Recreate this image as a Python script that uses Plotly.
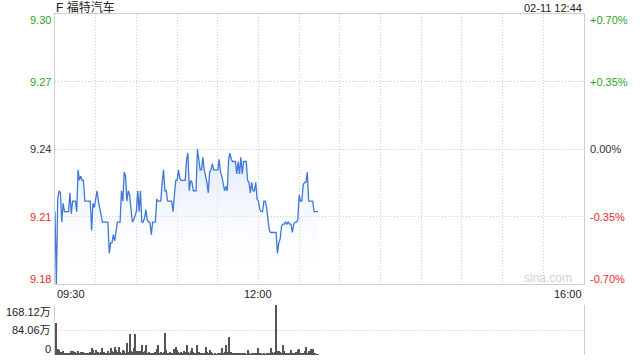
import plotly.graph_objects as go

title_text = "F 福特汽车"
stamp_text = "02-11 12:44"
prev_close = 9.24
pct_range = 0.70

price_tick_labels = ["9.30", "9.27", "9.24", "9.21", "9.18"]
pct_tick_values = [0.70, 0.35, 0.00, -0.35, -0.70]
pct_tick_labels = ["+0.70%", "+0.35%", "0.00%", "-0.35%", "-0.70%"]
time_tick_minutes = [0, 150, 390]
time_tick_labels = ["09:30", "12:00", "16:00"]
vol_tick_values = [168.12, 84.06, 0]
vol_tick_labels = ["168.12万", "84.06万", "0"]

# minute index (0 = 09:30) and last price per minute
minutes = list(range(195))
prices = [
    9.210, 9.175, 9.216, 9.220, 9.219, 9.205, 9.214, 9.210, 9.210, 9.210,
    9.210, 9.219, 9.209, 9.215, 9.215, 9.215, 9.210, 9.230, 9.225, 9.227,
    9.225, 9.225, 9.215, 9.215, 9.215, 9.215, 9.215, 9.201, 9.214, 9.212,
    9.217, 9.220, 9.215, 9.212, 9.208, 9.205, 9.205, 9.205, 9.205, 9.205,
    9.190, 9.195, 9.195, 9.199, 9.196, 9.201, 9.205, 9.205, 9.205, 9.220,
    9.215, 9.229, 9.227, 9.215, 9.220, 9.218, 9.211, 9.205, 9.206, 9.208,
    9.210, 9.220, 9.210, 9.220, 9.205, 9.205, 9.207, 9.211, 9.206, 9.205,
    9.205, 9.199, 9.205, 9.205, 9.205, 9.216, 9.215, 9.215, 9.215, 9.224,
    9.230, 9.220, 9.220, 9.215, 9.215, 9.215, 9.215, 9.210, 9.220, 9.225,
    9.225, 9.230, 9.226, 9.225, 9.225, 9.225, 9.225, 9.235, 9.238, 9.220,
    9.225, 9.224, 9.220, 9.220, 9.220, 9.240, 9.236, 9.230, 9.230, 9.236,
    9.230, 9.227, 9.224, 9.219, 9.229, 9.230, 9.233, 9.230, 9.230, 9.230,
    9.230, 9.235, 9.229, 9.227, 9.224, 9.220, 9.222, 9.220, 9.235, 9.238,
    9.235, 9.234, 9.234, 9.234, 9.228, 9.234, 9.228, 9.236, 9.228, 9.234,
    9.234, 9.234, 9.225, 9.224, 9.219, 9.224, 9.220, 9.220, 9.224, 9.216,
    9.215, 9.211, 9.210, 9.210, 9.215, 9.215, 9.212, 9.206, 9.201, 9.200,
    9.200, 9.200, 9.200, 9.200, 9.190, 9.195, 9.197, 9.203, 9.204, 9.204,
    9.205, 9.204, 9.205, 9.204, 9.204, 9.200, 9.204, 9.205, 9.205, 9.206,
    9.218, 9.215, 9.215, 9.223, 9.224, 9.224, 9.229, 9.215, 9.215, 9.215,
    9.215, 9.210, 9.210, 9.210, 9.210,
]

# volume per minute, in 万 shares
volumes = [
    0, 108, 20, 18, 11, 9, 13, 8, 6, 5,
    8, 6, 13, 12, 6, 9, 5, 14, 7, 9,
    5, 9, 6, 7, 4, 5, 9, 25, 17, 6,
    18, 7, 9, 5, 9, 22, 9, 6, 5, 15,
    8, 24, 15, 9, 28, 17, 9, 28, 9, 6,
    17, 14, 6, 40, 9, 70, 14, 9, 24, 70,
    14, 12, 6, 15, 32, 9, 15, 32, 6, 9,
    6, 7, 5, 6, 9, 20, 32, 6, 9, 7,
    9, 73, 17, 6, 4, 9, 5, 7, 20, 28,
    17, 9, 6, 9, 5, 12, 9, 35, 9, 6,
    12, 24, 9, 6, 7, 32, 9, 7, 6, 5,
    5, 28, 9, 7, 17, 9, 6, 3, 4, 3,
    7, 6, 7, 24, 7, 9, 35, 9, 62, 7,
    11, 7, 5, 7, 6, 3, 5, 6, 5, 4,
    6, 3, 17, 4, 3, 5, 4, 6, 5, 3,
    24, 6, 4, 3, 4, 3, 5, 6, 4, 24,
    9, 6, 9, 168.12, 12, 15, 9, 6, 32, 15,
    6, 7, 5, 6, 17, 7, 6, 5, 9, 17,
    20, 6, 7, 6, 12, 28, 7, 15, 9, 20,
    20, 7, 6, 3, 2,
]

GREEN = "#1fa51f"
RED = "#f02828"
DARK = "#333333"
GRID = "#cccccc"
BORDER = "#cfcfcf"
DOT = "1px,2px"
FONT = "Liberation Sans, Arial, Noto Sans CJK SC, sans-serif"

y_lo = prev_close * (1 - pct_range / 100)
y_hi = prev_close * (1 + pct_range / 100)
grid_prices = [prev_close * (1 + p / 100) for p in pct_tick_values]

fig = go.Figure()

fig.add_trace(go.Scatter(
    x=minutes, y=prices, mode="lines",
    line=dict(color="#3f78d8", width=1.3),
    fill="tozeroy",
    fillgradient=dict(
        type="vertical",
        start=y_lo, stop=max(prices),
        colorscale=[[0, "rgba(255,255,255,0)"], [1, "rgba(205,222,250,0.7)"]],
    ),
    xaxis="x", yaxis="y", hoverinfo="skip", showlegend=False,
))

fig.add_trace(go.Bar(
    x=minutes, y=volumes, width=0.75,
    marker=dict(color="#555555", line=dict(width=0)),
    xaxis="x2", yaxis="y2", hoverinfo="skip", showlegend=False,
))

top_price = 1.0
bottom_price = (355 - 284) / 341
top_vol = (355 - 305) / 341

fig.update_layout(
    width=640, height=360,
    margin=dict(l=55, r=56, t=14, b=5),
    paper_bgcolor="white", plot_bgcolor="white",
    font=dict(family=FONT, size=11, color=DARK),
    bargap=0,
    xaxis=dict(
        domain=[0, 1], range=[0, 390], anchor="y",
        tickmode="linear", tick0=0, dtick=30,
        showgrid=True, gridcolor=GRID, griddash=DOT, gridwidth=1,
        showticklabels=False, ticks="", zeroline=False,
        showline=True, linecolor=BORDER, linewidth=1, mirror=True,
    ),
    yaxis=dict(
        domain=[bottom_price, top_price], range=[y_lo, y_hi], anchor="x",
        tickmode="array", tickvals=grid_prices,
        showgrid=True, gridcolor=GRID, griddash=DOT, gridwidth=1,
        showticklabels=False, ticks="", zeroline=False,
        showline=True, linecolor=BORDER, linewidth=1, mirror=True,
    ),
    xaxis2=dict(
        domain=[0, 1], range=[0, 390], anchor="y2",
        showgrid=False, showticklabels=False, ticks="", zeroline=False,
        showline=False,
    ),
    yaxis2=dict(
        domain=[0, top_vol], range=[0, 168.12], anchor="x2",
        tickmode="array", tickvals=vol_tick_values,
        showgrid=True, gridcolor=GRID, griddash=DOT, gridwidth=1,
        showticklabels=False, ticks="", zeroline=False,
        showline=True, linecolor=BORDER, linewidth=1, mirror=True,
    ),
)

ann = []
# title and timestamp
ann.append(dict(x=0, y=1 + 6.5 / 341, xref="paper", yref="paper", xanchor="left",
                yanchor="middle", text=title_text, showarrow=False,
                font=dict(size=12, color="#222222"), xshift=-1))
ann.append(dict(x=1, y=1 + 6.5 / 341, xref="paper", yref="paper", xanchor="right",
                yanchor="middle", text=stamp_text, showarrow=False,
                font=dict(size=11, color="#222222")))

label_colors = [GREEN, GREEN, DARK, RED, RED]
n = len(price_tick_labels)
for i, (gp, lbl, plbl, col) in enumerate(zip(grid_prices, price_tick_labels, pct_tick_labels, label_colors)):
    ys = -6 if i == 0 else (5 if i == n - 1 else 0)
    ann.append(dict(x=0, y=gp, xref="paper", yref="y", xanchor="right", yanchor="middle",
                    text=lbl, showarrow=False, xshift=-2, yshift=ys,
                    font=dict(size=11, color=col)))
    ann.append(dict(x=1, y=gp, xref="paper", yref="y", xanchor="left", yanchor="middle",
                    text=plbl, showarrow=False, xshift=4, yshift=ys,
                    font=dict(size=11, color=col)))

# time labels
anchors = ["left", "center", "right"]
for m, lbl, a in zip(time_tick_minutes, time_tick_labels, anchors):
    ann.append(dict(x=m, y=bottom_price, xref="x", yref="paper", xanchor=a, yanchor="middle",
                    text=lbl, showarrow=False, yshift=-9.5,
                    font=dict(size=11, color="#222222")))

# volume labels
nv = len(vol_tick_values)
for i, (v, lbl) in enumerate(zip(vol_tick_values, vol_tick_labels)):
    ys = -6.5 if i == 0 else (6 if i == nv - 1 else 0)
    ann.append(dict(x=0, y=v, xref="paper", yref="y2", xanchor="right", yanchor="middle",
                    text=lbl, showarrow=False, xshift=-2, yshift=ys,
                    font=dict(size=11, color="#222222")))

# watermark
ann.append(dict(x=1, y=y_lo, xref="paper", yref="y", xanchor="right", yanchor="middle",
                text="sina.com", showarrow=False, xshift=-10, yshift=6,
                font=dict(size=12, color="#d0d0d0")))

fig.update_layout(annotations=ann)

fig.write_html("out.html")
